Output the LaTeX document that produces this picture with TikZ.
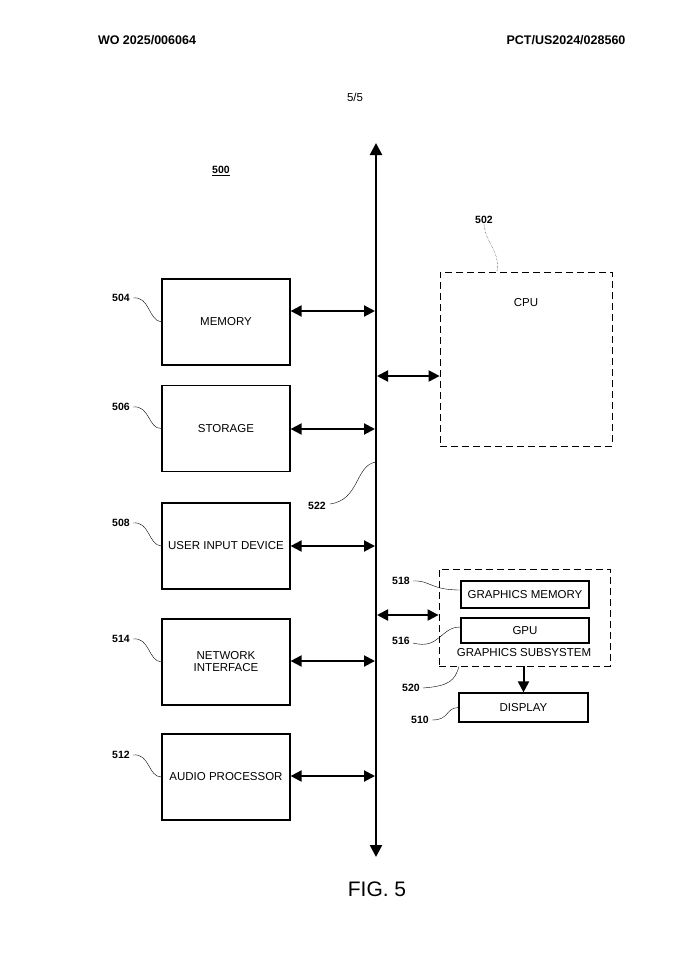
\documentclass[tikz,border=0pt]{standalone}
\usepackage{fontspec}
\setmainfont{Liberation Sans}
\usetikzlibrary{arrows.meta}
\begin{document}
\begin{tikzpicture}[
x=1pt, y=-1pt,
every node/.style={font=\fontsize{11.5}{12}\selectfont, inner sep=0pt},
box/.style={draw, very thick, minimum width=128pt, minimum height=86pt, align=center},
dbox/.style={draw, thick, dashed, dash pattern=on 7pt off 4pt},
sbox/.style={draw, very thick, minimum width=128pt, minimum height=26pt},
lbl/.style={font=\fontsize{10.5}{12}\selectfont\bfseries},
lead/.style={thin},
link/.style={line width=2pt, {Triangle[length=11pt,width=11pt]}-{Triangle[length=11pt,width=11pt]}},
]
\useasboundingbox (0,0) rectangle (689,980);

\node[font=\fontsize{12.5}{14}\selectfont\bfseries] (hl) at (147,40) {WO 2025/006064};
\node[font=\fontsize{12.5}{14}\selectfont\bfseries] (hr) at (566,40) {PCT/US2024/028560};
\node (pg) at (355,97) {5/5};
\node[lbl] (n500) at (221,171) {\underline{500}};
\node[font=\fontsize{21}{24}\selectfont] (fig) at (377,889) {FIG. 5};

% bus
\coordinate (bt) at (376,143);
\coordinate (bb) at (376,857);
\draw[line width=2.5pt, {Triangle[length=12pt,width=12pt]}-{Triangle[length=12pt,width=12pt]}] (bt) -- (bb);

% left side
\node[box] (mem) at (226,322) {MEMORY};
\node[box] (sto) at (226,428.5) {STORAGE};
\node[box] (uid) at (226,546) {USER INPUT DEVICE};
\node[box] (net) at (226,662) {NETWORK\\INTERFACE};
\node[box] (aud) at (226,777) {AUDIO PROCESSOR};

\foreach \b/\y in {mem/311, sto/429, uid/546, net/661, aud/776}{
	\coordinate (bus\b) at (375,\y);
	\draw[link] (\b.east |- bus\b) -- (bus\b);
}

\foreach \b/\t/\ly in {mem/504/298, sto/506/407, uid/508/523, net/514/639, aud/512/755}{
	\node[lbl] (l\t) at (121,\ly) {\t};
	\draw[lead] (l\t.east) ++(3,0) .. controls (150,\ly-2) and (148,\ly+22) .. (\b.west);
}

% cpu
\node[dbox, minimum width=172pt, minimum height=174pt] (cpu) at (526,359) {};
\node (cput) at (526,303) {CPU};
\coordinate (buscpu) at (377,376);
\draw[link] (buscpu) -- (cpu.west |- buscpu);
\node[lbl] (l502) at (484,220) {502};
\draw[lead, densely dotted] (l502.south) .. controls (486,245) and (500,250) .. (cpu.north -| 497,0);

% graphics
\node[dbox, minimum width=171pt, minimum height=97pt] (gss) at (524.5,617.5) {};
\node[sbox, minimum height=27pt] (gmem) at (525,594.5) {GRAPHICS MEMORY};
\node[sbox, minimum height=25pt] (gpu) at (525,630.5) {GPU};
\node (gsst) at (524,653) {GRAPHICS SUBSYSTEM};
\node[sbox, minimum width=129pt, minimum height=29pt] (disp) at (523.5,707.5) {DISPLAY};
\coordinate (busgss) at (377,615);
\draw[link] (busgss) -- (gss.west |- busgss);
\draw[line width=2pt, -{Triangle[length=11pt,width=11pt]}] (gss.south -| disp.north) -- (disp.north);

\node[lbl] (l518) at (401,581) {518};
\draw[lead] (l518.east) ++(3,0) .. controls (430,580) and (430,590) .. (gmem.west |- 0,590);
\node[lbl] (l516) at (401,641) {516};
\draw[lead] (l516.east) ++(3,2) .. controls (440,650) and (440,627) .. (gpu.west |- 0,627);
\node[lbl] (l520) at (411,688) {520};
\draw[lead] (l520.east) ++(3,0) .. controls (450,686) and (455,680) .. (gss.south -| 459,0);
\node[lbl] (l510) at (420,720) {510};
\draw[lead] (l510.east) ++(3,0) .. controls (450,720) and (445,708) .. (disp.west);

\node[lbl] (l522) at (317,506) {522};
\draw[lead] (l522.east) ++(4,-2) .. controls (360,500) and (355,465) .. (376,462);
\end{tikzpicture}
\end{document}
